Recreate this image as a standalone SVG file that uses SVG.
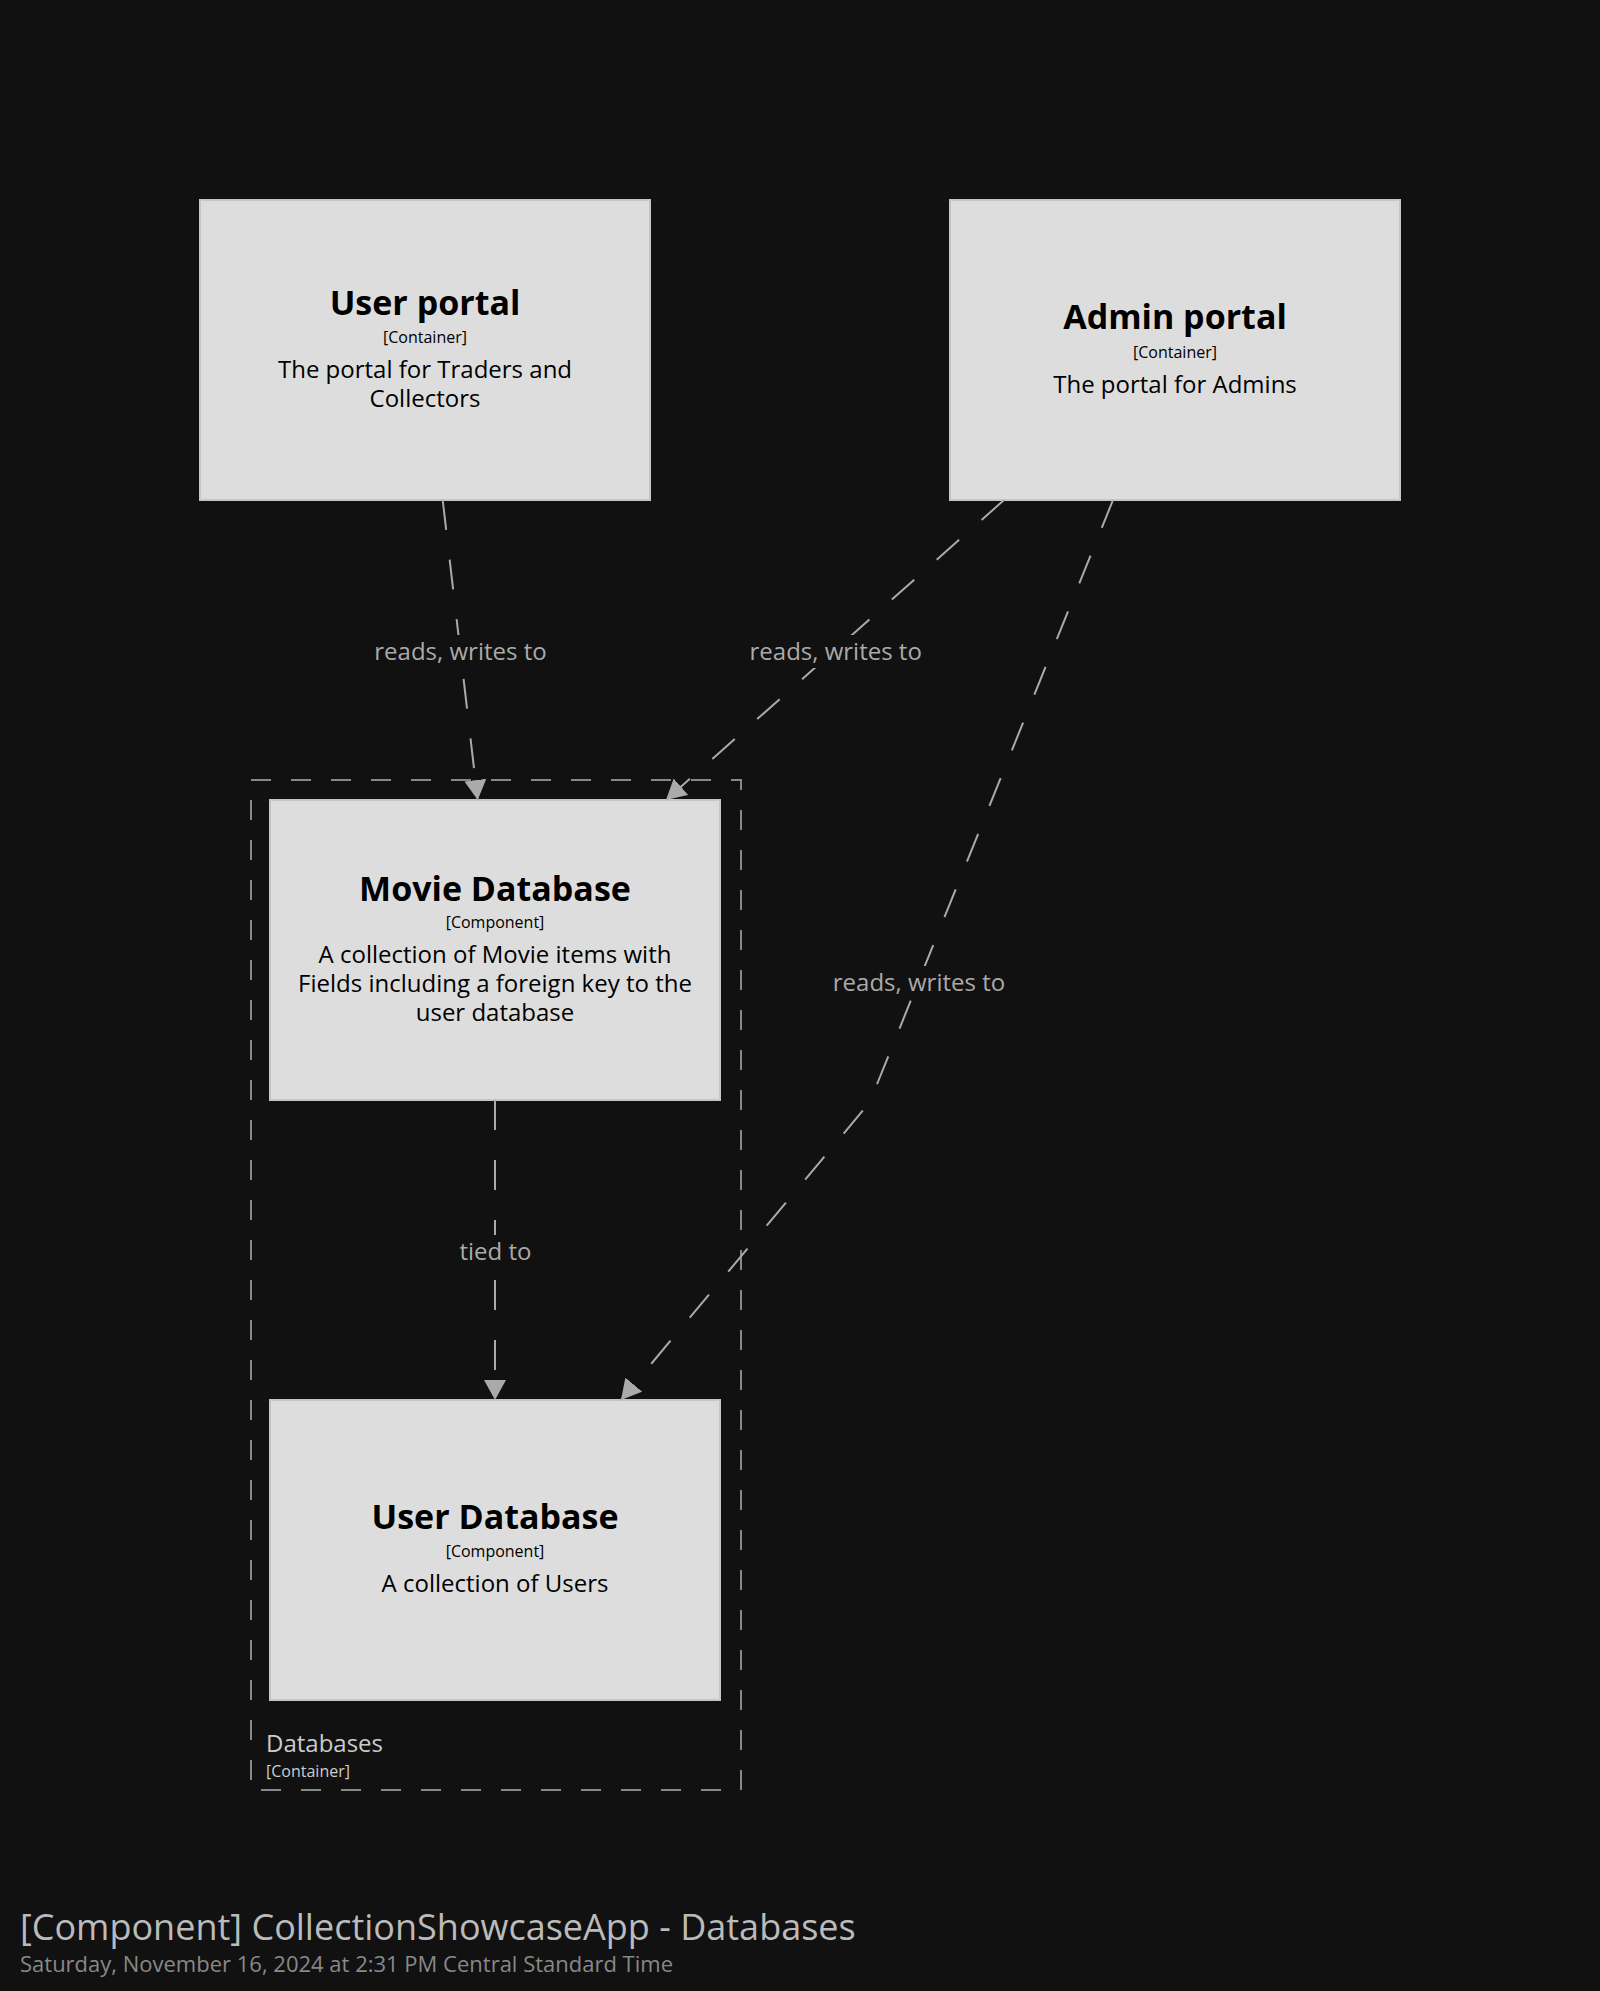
<svg xmlns="http://www.w3.org/2000/svg" width="1600" height="1991" viewBox="0 0 1600 1991">
<style>
  text { font-family: "Open Sans", "Noto Sans", "DejaVu Sans", sans-serif; }
  .box { fill: #dddddd; stroke: #c6c6c6; stroke-width: 2; }
  .name { font-size: 34px; font-weight: bold; fill: #000000; text-anchor: middle; }
  .meta { font-size: 16px; fill: #000000; text-anchor: middle; }
  .desc { font-size: 24px; fill: #000000; text-anchor: middle; }
  .edge { fill: none; stroke: #aaaaaa; stroke-width: 2; stroke-dasharray: 30 30; }
  .lbl { font-size: 24px; fill: #aaaaaa; text-anchor: middle; }
  .lblbg { fill: #111111; }
  .boundary { fill: none; stroke: #888888; stroke-width: 2; stroke-dasharray: 20 20; }
</style>
<defs>
  <marker id="arrow" markerUnits="userSpaceOnUse" markerWidth="20" markerHeight="22" refX="20" refY="11" orient="auto" viewBox="0 0 20 22">
    <path d="M0,0 L20,11 L0,22 Z" fill="#aaaaaa" stroke="none"/>
  </marker>
</defs>
<rect x="0" y="0" width="1600" height="1991" fill="#111111"/>

<g id="boundary-databases">
  <rect class="boundary" x="251" y="780" width="490" height="1010"/>
  <text x="266" y="1752" font-size="24" fill="#cccccc">Databases</text>
  <text x="266" y="1777" font-size="16" fill="#cccccc">[Container]</text>
</g>

<g id="node-user-portal">
  <rect class="box" x="200" y="200" width="450" height="300"/>
  <text class="name" x="425" y="315">User portal</text>
  <text class="meta" x="425" y="343">[Container]</text>
  <text class="desc" x="425" y="378">The portal for Traders and</text>
  <text class="desc" x="425" y="407">Collectors</text>
</g>

<g id="node-admin-portal">
  <rect class="box" x="950" y="200" width="450" height="300"/>
  <text class="name" x="1175" y="329">Admin portal</text>
  <text class="meta" x="1175" y="358">[Container]</text>
  <text class="desc" x="1175" y="393">The portal for Admins</text>
</g>

<g id="node-movie-database">
  <rect class="box" x="270" y="800" width="450" height="300"/>
  <text class="name" x="495" y="901">Movie Database</text>
  <text class="meta" x="495" y="928">[Component]</text>
  <text class="desc" x="495" y="963">A collection of Movie items with</text>
  <text class="desc" x="495" y="992">Fields including a foreign key to the</text>
  <text class="desc" x="495" y="1021">user database</text>
</g>

<g id="node-user-database">
  <rect class="box" x="270" y="1400" width="450" height="300"/>
  <text class="name" x="495" y="1529">User Database</text>
  <text class="meta" x="495" y="1557">[Component]</text>
  <text class="desc" x="495" y="1592">A collection of Users</text>
</g>

<g id="connectors">
  <path class="edge" d="M442.7,500 L477.7,800" marker-end="url(#arrow)"/>
  <path class="edge" d="M1004,500 L666,800" marker-end="url(#arrow)"/>
  <path class="edge" d="M1113,500 L877.5,1083 Q871.5,1099 862.7,1110.7 L621,1400" marker-end="url(#arrow)"/>
  <path class="edge" d="M495,1100 L495,1400" marker-end="url(#arrow)"/>

  <rect class="lblbg" x="372" y="635" width="178" height="33"/>
  <text class="lbl" x="460.5" y="660">reads, writes to</text>
  <rect class="lblbg" x="747" y="635" width="178" height="33"/>
  <text class="lbl" x="835.7" y="660">reads, writes to</text>
  <rect class="lblbg" x="830" y="966" width="178" height="33"/>
  <text class="lbl" x="919" y="991">reads, writes to</text>
  <rect class="lblbg" x="457" y="1235" width="77" height="33"/>
  <text class="lbl" x="495.5" y="1260">tied to</text>
</g>

<g id="title">
  <text x="20" y="1940" font-size="36" fill="#bbbbbb">[Component] CollectionShowcaseApp - Databases</text>
  <text x="20" y="1972" font-size="22" fill="#888888">Saturday, November 16, 2024 at 2:31 PM Central Standard Time</text>
</g>
</svg>
